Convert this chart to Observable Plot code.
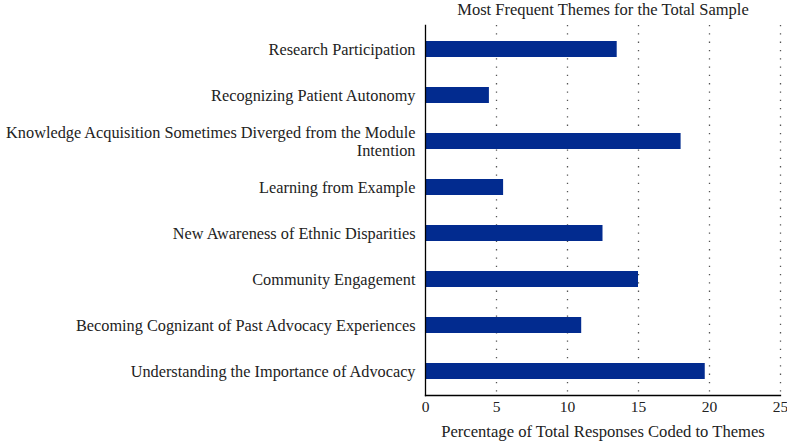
<!DOCTYPE html>
<html>
<head>
<meta charset="utf-8">
<script src="https://cdn.jsdelivr.net/npm/d3@7"></script>
<script src="https://cdn.jsdelivr.net/npm/@observablehq/plot@0.6"></script>
<style>
  html, body { margin: 0; padding: 0; background: #fff; }
  #chart svg { display: block; }
</style>
</head>
<body>
<div id="chart"></div>
<script>
const themes = [
  "Research Participation",
  "Recognizing Patient Autonomy",
  "Knowledge Acquisition Sometimes Diverged from the Module\nIntention",
  "Learning from Example",
  "New Awareness of Ethnic Disparities",
  "Community Engagement",
  "Becoming Cognizant of Past Advocacy Experiences",
  "Understanding the Importance of Advocacy"
];
const percentages = [13.5, 4.5, 18.0, 5.5, 12.5, 15.0, 11.0, 19.7];
const xTicks = [0, 5, 10, 15, 20, 25];
const gridTicks = [5, 10, 15, 20, 25];
const titleText = "Most Frequent Themes for the Total Sample";
const xLabel = "Percentage of Total Responses Coded to Themes";

const data = themes.map((t, i) => ({theme: t, value: percentages[i]}));
const font = "'Liberation Serif', 'DejaVu Serif', serif";

const plot = Plot.plot({
  width: 787,
  height: 441,
  marginLeft: 425,
  marginRight: 7,
  marginTop: 25,
  marginBottom: 46,
  style: {fontFamily: font, fontSize: "16px", color: "#222", background: "#fff"},
  x: {domain: [0, 25]},
  y: {domain: themes, paddingInner: 0.65, paddingOuter: 0.325},
  marks: [
    Plot.ruleX(gridTicks, {stroke: "#555", strokeDasharray: "1.3,7", strokeWidth: 1.3}),
    Plot.barX(data, {x: "value", y: "theme", fill: "#022b8f"}),
    Plot.axisY({tickSize: 0, tickPadding: 10, fontSize: 16.3, label: null, lineHeight: 1.1}),
    Plot.axisX({ticks: xTicks, tickSize: 0, tickPadding: 5, fontSize: 15.5, label: null}),
    Plot.frame({anchor: "left", stroke: "#000", strokeWidth: 1.3}),
    Plot.frame({anchor: "bottom", stroke: "#000", strokeWidth: 1.3}),
    Plot.text([titleText], {frameAnchor: "top", lineAnchor: "middle", dy: -16, fontSize: 16.5, fill: "#222"}),
    Plot.text([xLabel], {frameAnchor: "bottom", lineAnchor: "middle", dy: 36, fontSize: 16.6, fill: "#222"})
  ]
});
document.getElementById("chart").appendChild(plot);
</script>
</body>
</html>
